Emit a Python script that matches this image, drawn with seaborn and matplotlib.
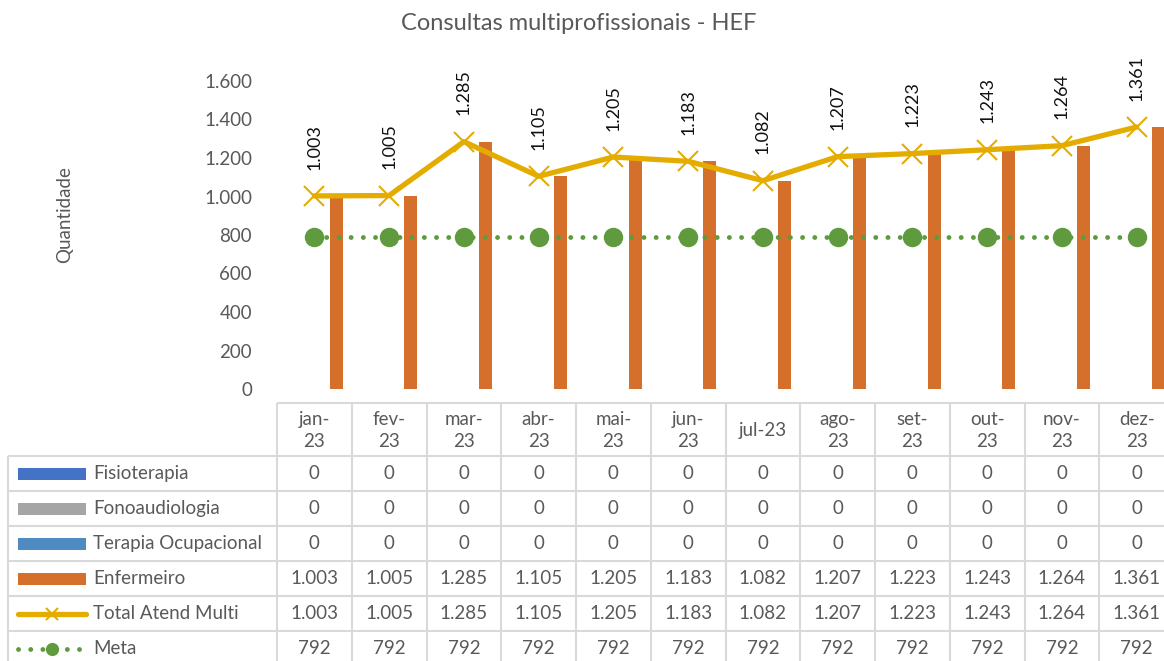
import numpy as np
import pandas as pd
import matplotlib.pyplot as plt
from matplotlib.patches import Rectangle
import seaborn as sns

sns.set_theme(style="white")
plt.rcParams['font.family'] = ['Lato', 'DejaVu Sans']

# dados
meses = ['jan-23', 'fev-23', 'mar-23', 'abr-23', 'mai-23', 'jun-23',
         'jul-23', 'ago-23', 'set-23', 'out-23', 'nov-23', 'dez-23']
cabecalho = ['jan-\n23', 'fev-\n23', 'mar-\n23', 'abr-\n23', 'mai-\n23', 'jun-\n23',
             'jul-23', 'ago-\n23', 'set-\n23', 'out-\n23', 'nov-\n23', 'dez-\n23']
fisioterapia = [0, 0, 0, 0, 0, 0, 0, 0, 0, 0, 0, 0]
fonoaudiologia = [0, 0, 0, 0, 0, 0, 0, 0, 0, 0, 0, 0]
terapia_ocupacional = [0, 0, 0, 0, 0, 0, 0, 0, 0, 0, 0, 0]
enfermeiro = [1003, 1005, 1285, 1105, 1205, 1183, 1082, 1207, 1223, 1243, 1264, 1361]
total_atend = [1003, 1005, 1285, 1105, 1205, 1183, 1082, 1207, 1223, 1243, 1264, 1361]
meta = [792, 792, 792, 792, 792, 792, 792, 792, 792, 792, 792, 792]

series_barras = ['Fisioterapia', 'Fonoaudiologia', 'Terapia Ocupacional', 'Enfermeiro']
cores = {'Fisioterapia': '#4472C4', 'Fonoaudiologia': '#A5A5A5',
         'Terapia Ocupacional': '#4F8BC0', 'Enfermeiro': '#D4702C'}
cor_total = '#E5AC00'
cor_meta = '#5F9B3E'
cinza = '#595959'
grade = '#D9D9D9'
fs = 13.5


def fmt(v):
    return f"{v:,}".replace(',', '.')


W, H = 1164, 661
fig = plt.figure(figsize=(W / 100, H / 100), dpi=100)
ax = fig.add_axes([277 / W, (H - 389) / H, 897 / W, 308 / H])

df = pd.DataFrame({
    'mes': meses * 4,
    'serie': np.repeat(series_barras, len(meses)),
    'valor': fisioterapia + fonoaudiologia + terapia_ocupacional + enfermeiro,
})
sns.barplot(data=df, x='mes', y='valor', hue='serie', order=meses,
            hue_order=series_barras, palette=cores, width=0.773, gap=0.1,
            saturation=1, linewidth=0, legend=False, ax=ax)

xs = np.arange(len(meses))
sns.lineplot(x=xs, y=total_atend, color=cor_total, linewidth=3.8, marker='x',
             markersize=14, markeredgewidth=1.5, markeredgecolor=cor_total, ax=ax)
sns.lineplot(x=xs, y=meta, color=cor_meta, linewidth=3.5,
             linestyle=(0, (0.01, 2.5)), dash_capstyle='round', marker='o',
             markersize=14, markeredgewidth=0, ax=ax)

for x, v in zip(xs, total_atend):
    ax.annotate(fmt(v), (x, v), xytext=(0, 19), textcoords='offset points',
                rotation=90, ha='center', va='bottom', fontsize=13, color='#111111',
                annotation_clip=False)

ax.set_xlim(-0.5, len(meses) - 0.5)
ax.set_ylim(0, 1600)
ax.set_yticks(range(0, 1601, 200))
ax.set_yticklabels([fmt(t) for t in range(0, 1601, 200)])
ax.tick_params(axis='y', length=0, pad=18, labelsize=fs, labelcolor=cinza)
ax.set_xticks([])
ax.set_xlabel('')
ax.set_ylabel('')
for s in ax.spines.values():
    s.set_visible(False)

fig.text(579 / W, 1 - 23 / H, 'Consultas multiprofissionais - HEF',
         ha='center', va='center', fontsize=17, color=cinza)
fig.text(65 / W, 1 - 215 / H, 'Quantidade', rotation=90, ha='center',
         va='center', fontsize=fs, color=cinza)

# tabela de dados
ov = fig.add_axes([0, 0, 1, 1], zorder=-1)
ov.set_xlim(0, W)
ov.set_ylim(H, 0)
ov.axis('off')

bordas_x = [ax.transData.transform((i - 0.5, 0))[0] for i in range(len(meses) + 1)]
centros_x = [(a + b) / 2 for a, b in zip(bordas_x[:-1], bordas_x[1:])]
topo, fim_cab, alt = 403, 456, 35
linhas_y = [fim_cab + k * alt for k in range(7)]
esq = 8

kw = dict(color=grade, lw=1.5, clip_on=False, solid_capstyle='butt')
ov.plot([bordas_x[0], bordas_x[-1]], [topo, topo], **kw)
for y in linhas_y:
    ov.plot([esq, bordas_x[-1]], [y, y], **kw)
ov.plot([esq, esq], [fim_cab, linhas_y[-1]], **kw)
for x in bordas_x:
    ov.plot([x, x], [topo, linhas_y[-1]], **kw)

for cx, lab in zip(centros_x, cabecalho):
    ov.text(cx, (topo + fim_cab) / 2 + 1, lab, ha='center', va='center',
            fontsize=fs, color=cinza, linespacing=1.4)

nomes = series_barras + ['Total Atend Multi', 'Meta']
valores = [fisioterapia, fonoaudiologia, terapia_ocupacional, enfermeiro, total_atend, meta]
for k, (nome, vals) in enumerate(zip(nomes, valores)):
    yc = fim_cab + alt * (k + 0.5)
    ov.text(93, yc, nome, ha='left', va='center', fontsize=fs, color=cinza)
    for cx, v in zip(centros_x, vals):
        ov.text(cx, yc, fmt(v), ha='center', va='center', fontsize=fs, color=cinza)
    if nome in cores:
        ov.add_patch(Rectangle((18, yc - 6), 68, 12, color=cores[nome], lw=0))
    elif nome == 'Meta':
        ov.plot([18, 86], [yc, yc], color=cor_meta, lw=3.5,
                linestyle=(0, (0.01, 2.5)), dash_capstyle='round')
        ov.plot([52], [yc], marker='o', color=cor_meta, markersize=9.5, mew=0)
    else:
        ov.plot([18, 86], [yc, yc], color=cor_total, lw=3.8, solid_capstyle='round')
        ov.plot([52], [yc], marker='x', color=cor_total, markersize=8, mew=1.5)

fig.savefig('out.png', dpi=100)
